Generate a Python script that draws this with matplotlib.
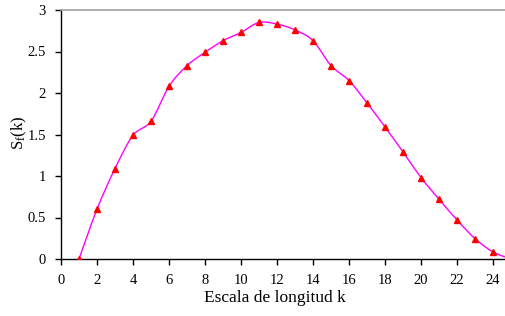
import numpy as np
import matplotlib
matplotlib.use("Agg")
from matplotlib import pyplot as plt
from matplotlib.path import Path
from matplotlib.patches import PathPatch

k = [1, 2, 3, 4, 5, 6, 7, 8, 9, 10, 11, 12, 13,
     14, 15, 16, 17, 18, 19, 20, 21, 22, 23, 24, 25]
s_k = [0.0, 0.60, 1.09, 1.49, 1.66, 2.08, 2.33, 2.49, 2.63, 2.73, 2.85, 2.83, 2.76,
       2.63, 2.33, 2.15, 1.88, 1.59, 1.29, 0.98, 0.72, 0.47, 0.245, 0.085, 0.0]
x_ticks = [0, 2, 4, 6, 8, 10, 12, 14, 16, 18, 20, 22, 24]
y_ticks = [0, 0.5, 1, 1.5, 2, 2.5, 3]

plt.rcParams['font.family'] = ['Liberation Serif', 'DejaVu Serif']
plt.rcParams['mathtext.fontset'] = 'custom'
plt.rcParams['mathtext.rm'] = 'Liberation Serif'
plt.rcParams['mathtext.it'] = 'Liberation Serif'

fig = plt.figure(figsize=(5.06, 3.16), dpi=100)
ax = fig.add_axes([61 / 506, 1 - 259 / 316, 1 - 61 / 506, 249 / 316])


# smoothed line like a spreadsheet chart: Catmull-Rom segments as cubic beziers
def smooth_path(xs, ys, t=1 / 6):
    pts = np.column_stack([xs, ys])
    verts = [pts[0]]
    codes = [Path.MOVETO]
    n = len(pts)
    for i in range(n - 1):
        p0 = pts[max(i - 1, 0)]
        p1 = pts[i]
        p2 = pts[i + 1]
        p3 = pts[min(i + 2, n - 1)]
        c1 = p1 + (p2 - p0) * t
        c2 = p2 - (p3 - p1) * t
        verts += [c1, c2, p2]
        codes += [Path.CURVE4] * 3
    return Path(verts, codes)


ax.add_patch(PathPatch(smooth_path(k, s_k), facecolor='none',
                       edgecolor='#ff00ff', lw=1.0, zorder=3))
ax.plot(k, s_k, ls='none', marker='^', color='#ff0000', ms=5, zorder=4,
        clip_on=True)

ax.set_xlim(0, 24.72)
ax.set_ylim(0, 3)
ax.set_xticks(x_ticks)
ax.set_yticks(y_ticks)
ax.set_yticklabels(['0', '0.5', '1', '1.5', '2', '2.5', '3'])

ax.spines['right'].set_visible(False)
ax.spines['top'].set_color('#a0a0a0')
ax.spines['top'].set_linewidth(1.2)
ax.spines['left'].set_linewidth(1.0)
ax.spines['bottom'].set_linewidth(1.0)
ax.tick_params(direction='out', length=4, width=1, labelsize=10.5, pad=7,
               colors='black')
ax.tick_params(axis='x', pad=7)

fig.text(275 / 506, 1 - 298 / 316, 'Escala de longitud k', ha='center',
         va='center', fontsize=12.5)
fig.text(19 / 506, 1 - 133 / 316, 'S$_{f}$(k)', ha='center', va='center',
         rotation=90, fontsize=12)

fig.savefig('out.png', dpi=100)
